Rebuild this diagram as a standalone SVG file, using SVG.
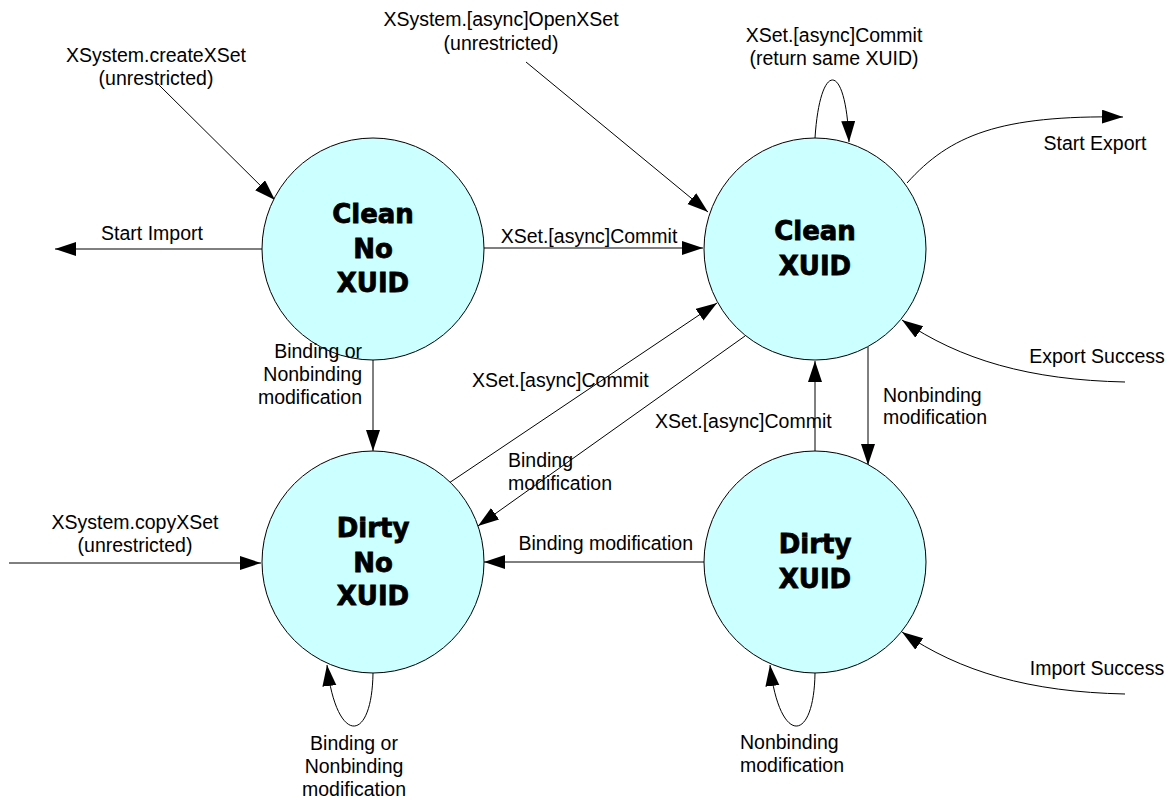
<svg xmlns="http://www.w3.org/2000/svg" width="1170" height="801" viewBox="0 0 1170 801">
<style>
.st{fill:#CCFFFF;stroke:#000;stroke-width:1}
.nt{font-family:"DejaVu Sans",sans-serif;font-weight:bold;font-size:26px;fill:#000;stroke:#000;stroke-width:0.8;text-anchor:middle}
.lb{font-family:"Liberation Sans",Arial,sans-serif;font-size:19.5px;fill:#000}
.c{text-anchor:middle}
.e{text-anchor:end}
.cn{fill:none;stroke:#000;stroke-width:1;marker-end:url(#ah)}
</style>
<defs>
<marker id="ah" markerUnits="userSpaceOnUse" markerWidth="22" markerHeight="16" refX="21" refY="7" orient="auto">
<path d="M0,0 L21,7 L0,14 z" fill="#000"/>
</marker>
</defs>
<rect width="1170" height="801" fill="#fff"/>
<g id="connectors">
<path class="cn" d="M159 85 L275 200"/>
<path class="cn" d="M262 249 L55 249"/>
<path class="cn" d="M526 62 L708 212"/>
<path class="cn" d="M484 248 L703 248"/>
<path class="cn" d="M815 138 C820 60 846 60 849 142"/>
<path class="cn" d="M907 183 C950 135 1000 115 1123 117"/>
<path class="cn" d="M1125 382 C1030 380 960 360 902 320"/>
<path class="cn" d="M868 347 L868 465"/>
<path class="cn" d="M815 451 L815 361"/>
<path class="cn" d="M449 483 L717 303"/>
<path class="cn" d="M745 336 L478 526"/>
<path class="cn" d="M373 360 L373 451"/>
<path class="cn" d="M9 563 L261 563"/>
<path class="cn" d="M704 562 L484 562"/>
<path class="cn" d="M373 673 C372 745 336 745 327 665"/>
<path class="cn" d="M815 673 C814 745 779 745 770 665"/>
<path class="cn" d="M1125 694 C1030 692 960 672 902 632"/>
</g>
<g id="clean-no-xuid">
<circle class="st" cx="373" cy="249" r="111"/>
<text class="nt" x="373" y="223">Clean</text>
<text class="nt" x="373" y="258">No</text>
<text class="nt" x="373" y="292">XUID</text>
</g>
<g id="clean-xuid">
<circle class="st" cx="815" cy="249" r="111"/>
<text class="nt" x="815" y="240">Clean</text>
<text class="nt" x="815" y="275">XUID</text>
</g>
<g id="dirty-no-xuid">
<circle class="st" cx="373" cy="562" r="111"/>
<text class="nt" x="373" y="537">Dirty</text>
<text class="nt" x="373" y="572">No</text>
<text class="nt" x="373" y="605">XUID</text>
</g>
<g id="dirty-xuid">
<circle class="st" cx="815" cy="562" r="111"/>
<text class="nt" x="815" y="553">Dirty</text>
<text class="nt" x="815" y="588">XUID</text>
</g>
<g id="labels">
<text class="lb c" x="156" y="62">XSystem.createXSet</text>
<text class="lb c" x="156" y="85">(unrestricted)</text>
<text class="lb c" x="152" y="240">Start Import</text>
<text class="lb c" x="501" y="26">XSystem.[async]OpenXSet</text>
<text class="lb c" x="501" y="50">(unrestricted)</text>
<text class="lb c" x="589" y="243">XSet.[async]Commit</text>
<text class="lb c" x="834" y="42">XSet.[async]Commit</text>
<text class="lb c" x="834" y="65">(return same XUID)</text>
<text class="lb c" x="1095" y="150">Start Export</text>
<text class="lb c" x="1097" y="363">Export Success</text>
<text class="lb" x="883" y="402">Nonbinding</text>
<text class="lb" x="883" y="424">modification</text>
<text class="lb" x="655" y="428">XSet.[async]Commit</text>
<text class="lb" x="472" y="387">XSet.[async]Commit</text>
<text class="lb" x="508" y="467">Binding</text>
<text class="lb" x="508" y="490">modification</text>
<text class="lb e" x="362" y="358">Binding or</text>
<text class="lb e" x="362" y="381">Nonbinding</text>
<text class="lb e" x="362" y="404">modification</text>
<text class="lb c" x="135" y="529">XSystem.copyXSet</text>
<text class="lb c" x="135" y="552">(unrestricted)</text>
<text class="lb e" x="693" y="550">Binding modification</text>
<text class="lb c" x="354" y="750">Binding or</text>
<text class="lb c" x="354" y="773">Nonbinding</text>
<text class="lb c" x="354" y="796">modification</text>
<text class="lb" x="740" y="749">Nonbinding</text>
<text class="lb" x="740" y="772">modification</text>
<text class="lb c" x="1097" y="675">Import Success</text>
</g>
</svg>
